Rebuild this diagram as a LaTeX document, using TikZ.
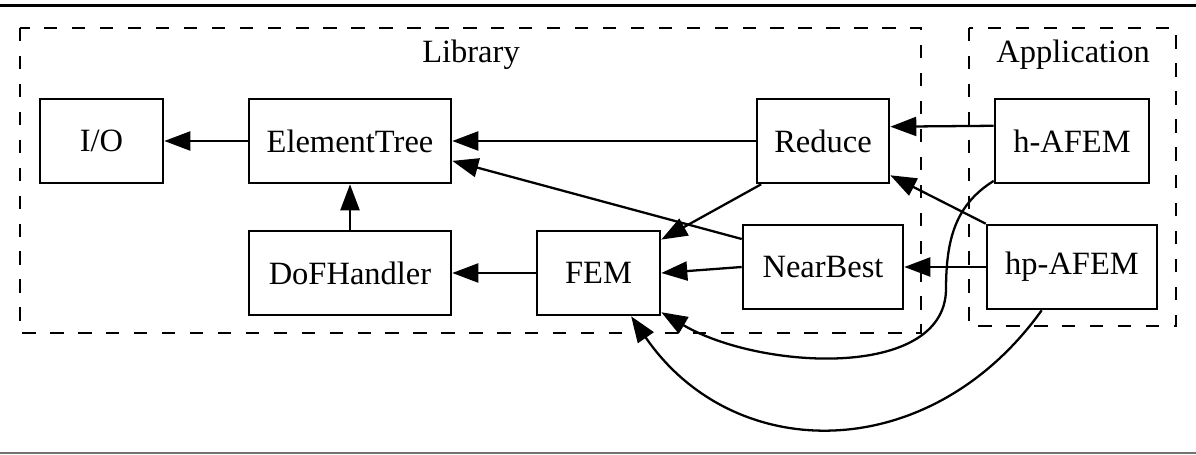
\documentclass[tikz,border=0pt]{standalone}
\usepackage{fontspec}
\setmainfont{Liberation Serif}
\usetikzlibrary{arrows.meta}

\tikzset{
	box/.style={draw,line width=1.5pt,minimum height=1.68cm,inner sep=0pt,font=\fontsize{18.5}{22}\selectfont},
	cluster/.style={draw,line width=1.5pt,dash pattern=on 7.6pt off 8.3pt},
	dep/.style={line width=1.3pt,-{Triangle[length=0.52cm,width=0.38cm]}}
}

\begin{document}
\begin{tikzpicture}[x=0.02cm,y=-0.02cm]
	\useasboundingbox (0,0) rectangle (1196,455);
	\draw [line width=1.7pt] (0,6) -- (1196,6);%Rahmen oben
	\draw [line width=0.8pt,black!55] (0,453) -- (1196,453);%Rahmen unten

	\draw [cluster] (20,28) rectangle (921,333);%Library
	\draw [cluster] (969,28) rectangle (1176,326);%Application
	\node[font=\fontsize{18.5}{22}\selectfont] (liblabel) at (471,55) {Library};
	\node[font=\fontsize{18.5}{22}\selectfont] (applabel) at (1073,55) {Application};

	\node[box,minimum width=2.46cm] (io) at (101.5,141) {I/O};
	\node[box,minimum width=4.04cm] (tree) at (350,141) {ElementTree};
	\node[box,minimum width=2.64cm] (reduce) at (823,141) {Reduce};
	\node[box,minimum width=3.08cm] (hafem) at (1072,141) {h-AFEM};
	\node[box,minimum width=4.04cm] (dof) at (350,273) {DoFHandler};
	\node[box,minimum width=2.46cm] (fem) at (598.5,273) {FEM};
	\node[box,minimum width=3.2cm] (near) at (823,267) {NearBest};
	\node[box,minimum width=3.4cm] (hpafem) at (1072,267) {hp-AFEM};

	\draw [dep] (tree) -- (io);
	\draw [dep] (dof) -- (tree);
	\draw [dep] (reduce) -- (tree);
	\draw [dep] (near.161) -- (tree.-11);
	\draw [dep] (reduce.-145) -- (fem.28);
	\draw [dep] (near.west) -- (fem.east);
	\draw [dep] (fem) -- (dof);
	\draw [dep] (hafem.169) -- (reduce.12);
	\draw [dep] (hpafem.north west) -- (reduce.-27);
	\draw [dep] (hpafem.west) -- (near.east);
	\draw [dep] (hafem.-153) .. controls (955,205) and (946,240) .. (946,290)
		.. controls (944,380) and (760,370) .. (fem.-32);%h-AFEM unten herum
	\draw [dep] (hpafem.-125.5) .. controls (930,466) and (734,466) .. (fem.-53);%hp-AFEM unten herum
\end{tikzpicture}
\end{document}
